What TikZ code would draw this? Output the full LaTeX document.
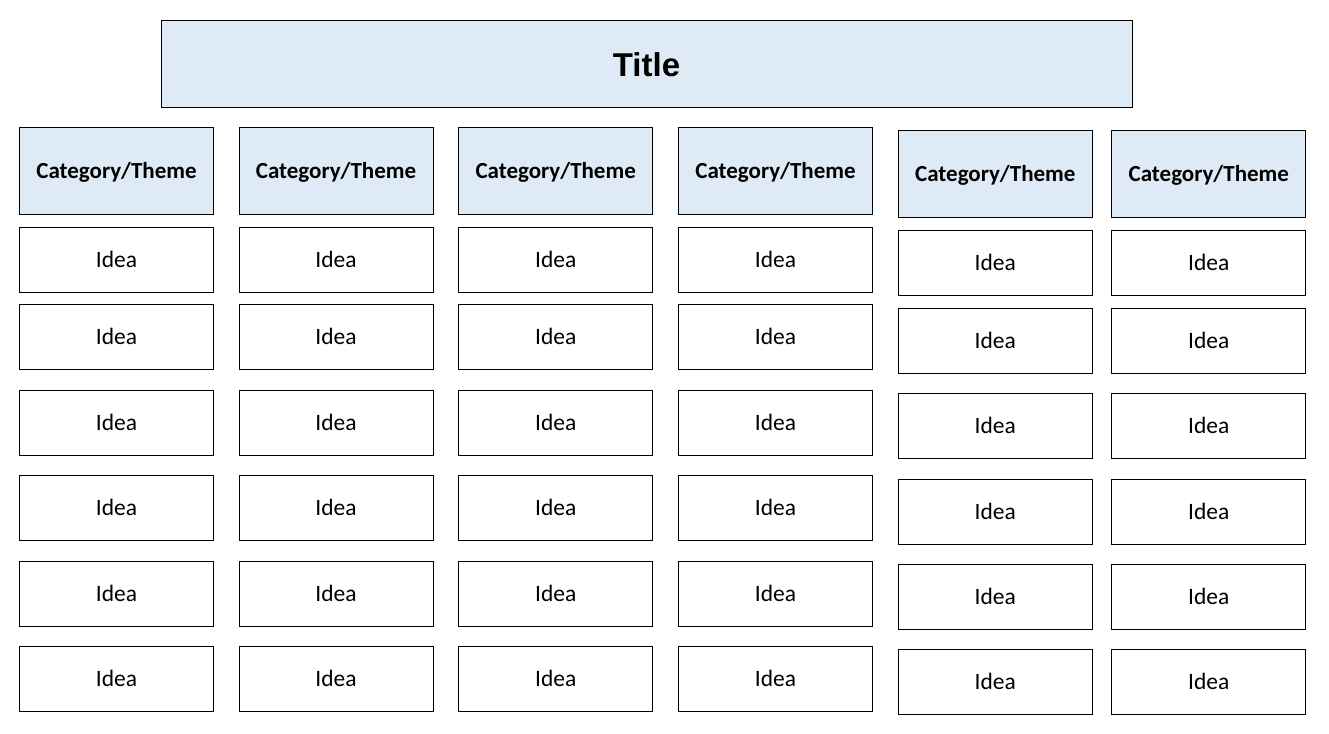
\documentclass[tikz,border=0pt]{standalone}
\usepackage{fontspec}
\setmainfont{Carlito}
\newfontfamily\titlefont{Liberation Sans}
\usepackage{xcolor}
\usepackage{tikz}
\usetikzlibrary{positioning}
\definecolor{catblue}{HTML}{DEEAF6}

\begin{document}
\begin{tikzpicture}[x=1pt,y=-1pt]
            \useasboundingbox (0,0) rectangle (1329,733);
            \node[draw,line width=1pt,fill=catblue,minimum width=971pt,minimum height=87pt,inner sep=0pt,
                  text height=23.6pt,text depth=0pt,
                  font=\titlefont\bfseries\fontsize{33}{38}\selectfont] (T) at (646.5,64.5) {Title};

            \begin{scope}[every node/.style={draw,line width=1pt,fill=catblue,inner sep=0pt,
                          text height=14.8pt,text depth=0pt,
                          minimum width=194pt,minimum height=87pt,font=\bfseries\fontsize{23}{27}\selectfont}]
                \node (C1) at (116.5,170.7) {Category/Theme};
                \node (C2) at (336,170.7) {Category/Theme};
                \node (C3) at (555.7,170.7) {Category/Theme};
                \node (C4) at (775.5,170.7) {Category/Theme};
                \node (C5) at (995.3,173.8) {Category/Theme};
                \node (C6) at (1208.8,173.8) {Category/Theme};
            \end{scope}

            \begin{scope}[every node/.style={draw,line width=1pt,fill=white,inner sep=0pt,
                          text height=15pt,text depth=0pt,
                          minimum width=194pt,minimum height=65pt,font=\fontsize{23.5}{27}\selectfont}]
                \node (I11) at (116.5,259.8) {Idea};
                \node (I12) at (116.5,336.8) {Idea};
                \node (I13) at (116.5,422.5) {Idea};
                \node (I14) at (116.5,507.5) {Idea};
                \node (I15) at (116.5,593.8) {Idea};
                \node (I16) at (116.5,678.8) {Idea};

                \node (I21) at (336,259.8) {Idea};
                \node (I22) at (336,336.8) {Idea};
                \node (I23) at (336,422.5) {Idea};
                \node (I24) at (336,507.5) {Idea};
                \node (I25) at (336,593.8) {Idea};
                \node (I26) at (336,678.8) {Idea};

                \node (I31) at (555.7,259.8) {Idea};
                \node (I32) at (555.7,336.8) {Idea};
                \node (I33) at (555.7,422.5) {Idea};
                \node (I34) at (555.7,507.5) {Idea};
                \node (I35) at (555.7,593.8) {Idea};
                \node (I36) at (555.7,678.8) {Idea};

                \node (I41) at (775.5,259.8) {Idea};
                \node (I42) at (775.5,336.8) {Idea};
                \node (I43) at (775.5,422.5) {Idea};
                \node (I44) at (775.5,507.5) {Idea};
                \node (I45) at (775.5,593.8) {Idea};
                \node (I46) at (775.5,678.8) {Idea};

                \node (I51) at (995.3,262.8) {Idea};
                \node (I52) at (995.3,340.8) {Idea};
                \node (I53) at (995.3,425.5) {Idea};
                \node (I54) at (995.3,511.5) {Idea};
                \node (I55) at (995.3,596.5) {Idea};
                \node (I56) at (995.3,681.5) {Idea};

                \node (I61) at (1208.8,262.8) {Idea};
                \node (I62) at (1208.8,340.8) {Idea};
                \node (I63) at (1208.8,425.5) {Idea};
                \node (I64) at (1208.8,511.5) {Idea};
                \node (I65) at (1208.8,596.5) {Idea};
                \node (I66) at (1208.8,681.5) {Idea};
            \end{scope}
        \end{tikzpicture}
\end{document}
